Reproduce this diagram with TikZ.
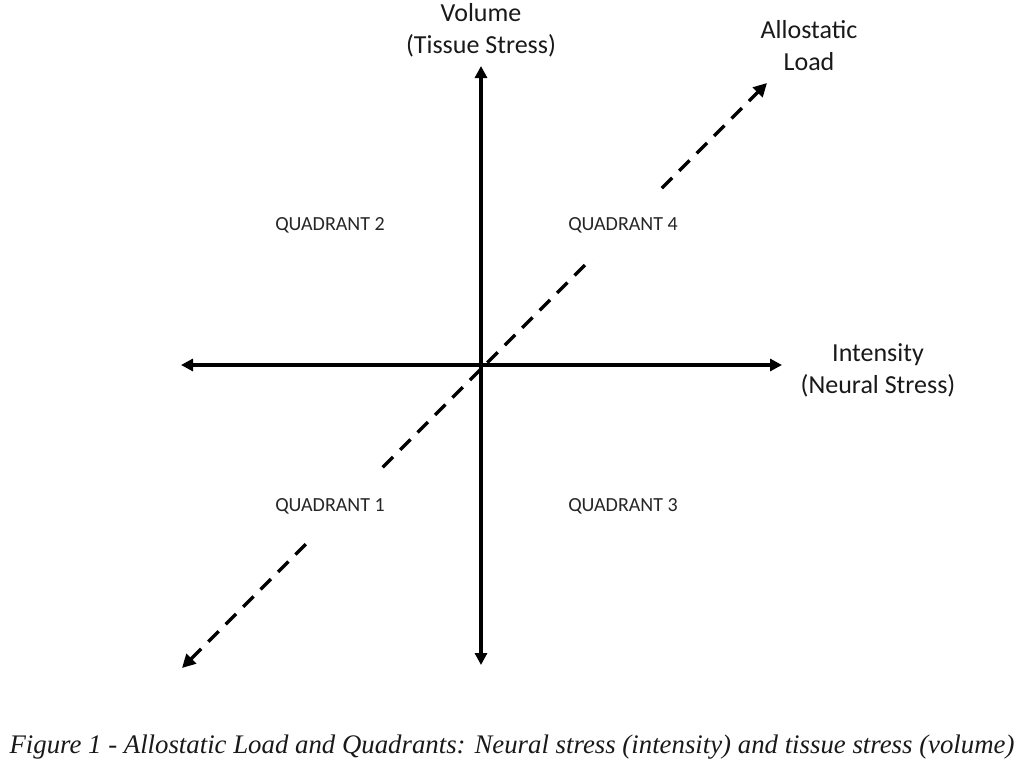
\documentclass[tikz,border=0pt]{standalone}
\usepackage{fontspec}
\setmainfont{Carlito}
\newfontfamily\capfont{Liberation Serif}
\usepackage{tikz}
\usetikzlibrary{arrows.meta}
\usetikzlibrary{positioning}
\usetikzlibrary{calc}

\begin{document}
\begin{tikzpicture}[x=0.75pt,y=0.75pt,yscale=-1,xscale=1,
    axis/.style={line width=2.3pt, {Triangle[length=9pt,width=9pt]}-{Triangle[length=9pt,width=9pt]}},
    load/.style={line width=2.6pt, dash pattern={on 11pt off 7.5pt}, {Triangle[length=10pt,width=10pt]}-{Triangle[length=10pt,width=10pt]}},
    quad/.style={fill=white, text=black!85, inner xsep=2pt, minimum height=51pt, font=\fontsize{15}{18}\selectfont},
    axlabel/.style={align=center, text=black!90, font=\fontsize{19.5}{24}\selectfont}]

\useasboundingbox (0,0) rectangle (1024,771);

\coordinate (xl) at (181,365);
\coordinate (xr) at (782,365);
\coordinate (yt) at (481,66);
\coordinate (yb) at (481,665);
\coordinate (ll) at (182,668);
\coordinate (lu) at (767,83);

% Axes
\draw   [axis]  (xl) -- (xr) ;
\draw   [axis]  (yb) -- (yt) ;

% Allostatic Load
\draw   [load]  (ll) -- (lu) ;

% Quadrant Labels
\node (q2) at (330,225) [quad] {QUADRANT 2};
\node (q4) at (623,225) [quad] {QUADRANT 4};
\node (q1) at (330,506) [quad] {QUADRANT 1};
\node (q3) at (623,506) [quad] {QUADRANT 3};

% Axis Labels
\node (vol) at (481,30)  [axlabel] {Volume\\(Tissue Stress)};
\node (all) at (809,46)  [axlabel] {Allostatic\\Load};
\node (int) at (878,370) [axlabel] {Intensity\\(Neural Stress)};

% Caption
\node (cap) at (512,747) [text=black!90, font=\capfont\itshape\fontsize{20.1}{24}\selectfont] {Figure 1 - Allostatic Load and Quadrants: Neural stress (intensity) and tissue stress (volume)};

\end{tikzpicture}
\end{document}
